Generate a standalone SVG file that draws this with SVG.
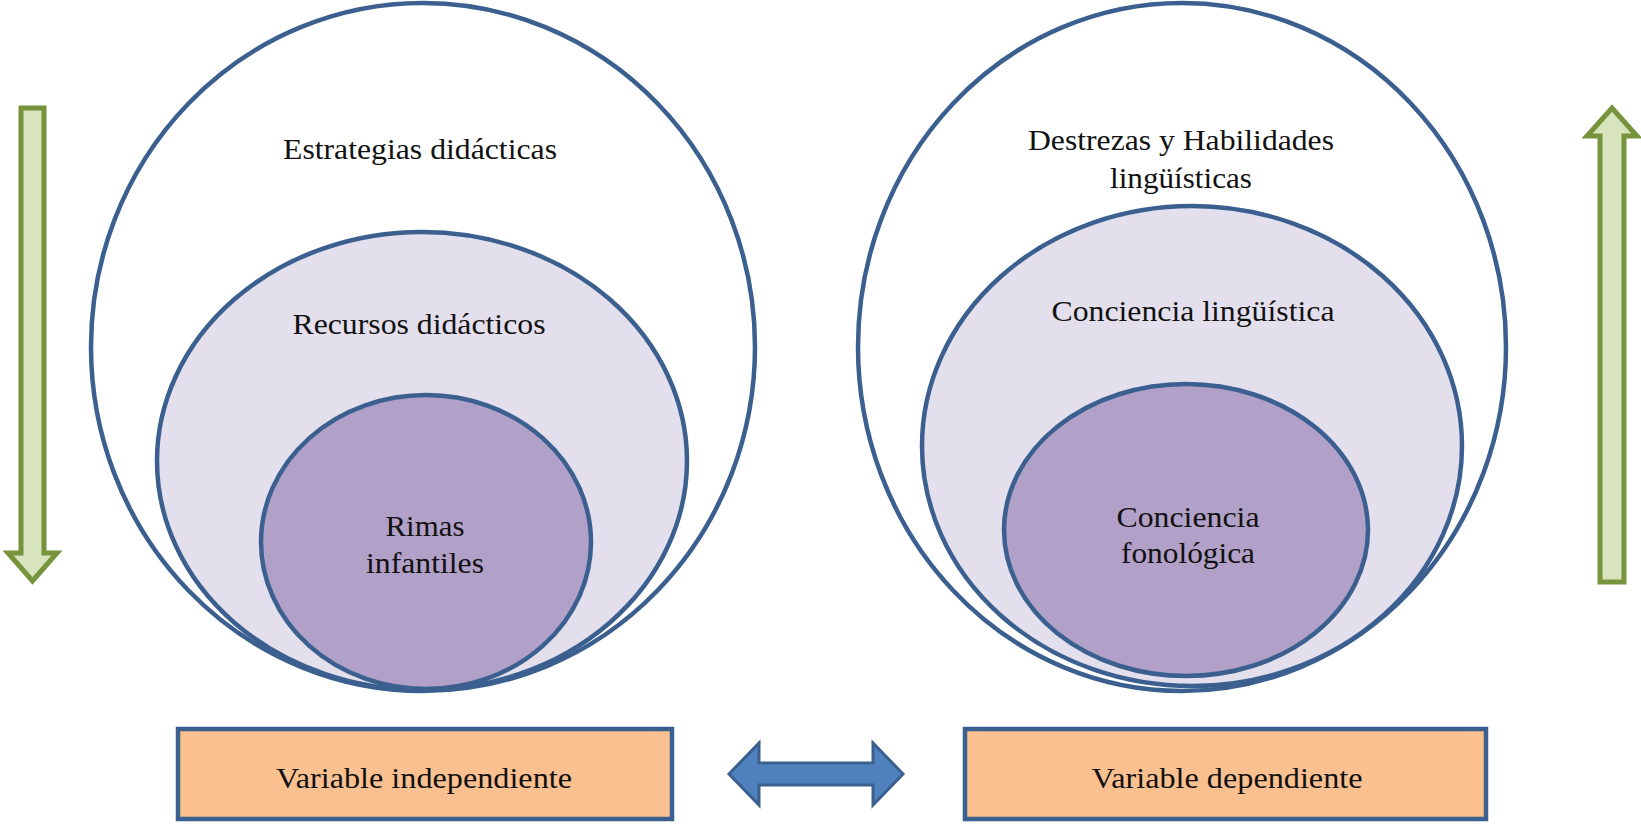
<svg xmlns="http://www.w3.org/2000/svg" width="1641" height="827" viewBox="0 0 1641 827">
<style>
.c{stroke:#3B6090;stroke-width:4.5;}
.o{fill:#FFFFFF;}
.m{fill:#E4DFEC;}
.i{fill:#B1A0C7;}
text{font-family:'Liberation Serif','DejaVu Serif',serif;font-size:29px;fill:#111;text-anchor:middle;}
.box{fill:#FAC090;stroke:#3B6090;stroke-width:4.5;}
.g{fill:#D7E4BD;stroke:#77933C;stroke-width:5;}
.b{fill:#4F81BD;stroke:#3B6090;stroke-width:3;}
</style>
<rect width="1641" height="827" fill="#FFFFFF"/>
<g id="left-outer"><ellipse class="c o" cx="423" cy="347" rx="332" ry="344"/><text x="420" y="159" textLength="274" lengthAdjust="spacingAndGlyphs">Estrategias didácticas</text></g>
<g id="left-middle"><ellipse class="c m" cx="422" cy="461" rx="265" ry="229"/><text x="419" y="334" textLength="253" lengthAdjust="spacingAndGlyphs">Recursos didácticos</text></g>
<g id="left-inner"><ellipse class="c i" cx="426" cy="542" rx="165" ry="147"/><text x="425" y="536" textLength="79" lengthAdjust="spacingAndGlyphs">Rimas</text><text x="425" y="573" textLength="118" lengthAdjust="spacingAndGlyphs">infantiles</text></g>
<g id="right-outer"><ellipse class="c o" cx="1182" cy="347" rx="324" ry="344"/><text x="1181" y="150" textLength="306" lengthAdjust="spacingAndGlyphs">Destrezas y Habilidades</text><text x="1181" y="188" textLength="142" lengthAdjust="spacingAndGlyphs">lingüísticas</text></g>
<g id="right-middle"><ellipse class="c m" cx="1192" cy="446" rx="270" ry="240"/><text x="1193" y="321" textLength="283" lengthAdjust="spacingAndGlyphs">Conciencia lingüística</text></g>
<g id="right-inner"><ellipse class="c i" cx="1186" cy="530" rx="182" ry="146"/><text x="1188" y="527" textLength="143" lengthAdjust="spacingAndGlyphs">Conciencia</text><text x="1188" y="563" textLength="134" lengthAdjust="spacingAndGlyphs">fonológica</text></g>
<g id="box-left"><rect class="box" x="178" y="729" width="494" height="90"/><text x="424" y="788" textLength="296" lengthAdjust="spacingAndGlyphs">Variable independiente</text></g>
<g id="box-right"><rect class="box" x="965" y="729" width="521" height="90"/><text x="1227" y="788" textLength="271" lengthAdjust="spacingAndGlyphs">Variable dependiente</text></g>
<g id="connectors">
<path class="g" d="M21 108 H44 V553 H57 L32.5 581 L8 553 H21 Z"/>
<path class="g" d="M1600 582 H1624 V136 H1637 L1612 108 L1587 136 H1600 Z"/>
<path class="b" d="M729 774 L759 743 V763 H873 V743 L903 774 L873 805 V785 H759 V805 Z"/>
</g>
</svg>
